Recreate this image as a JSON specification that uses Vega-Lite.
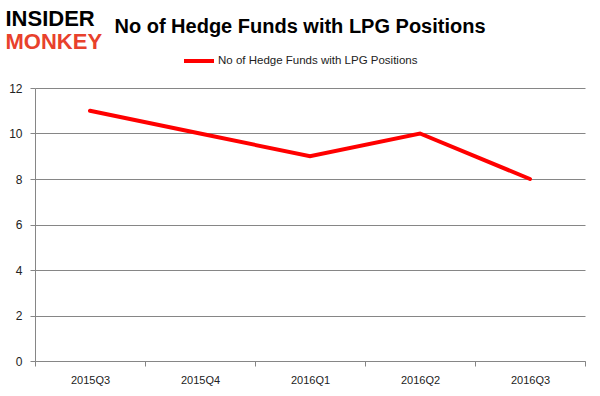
{
  "$schema": "https://vega.github.io/schema/vega-lite/v6.json",
  "width": 550,
  "height": 273,
  "autosize": "none",
  "padding": {"left": 35, "top": 88, "right": 15, "bottom": 35},
  "background": "white",
  "title": {
    "text": "No of Hedge Funds with LPG Positions",
    "font": "Liberation Sans",
    "fontSize": 20,
    "fontWeight": "bold",
    "color": "#000000",
    "anchor": "middle",
    "frame": "group",
    "dx": -10,
    "offset": 0,
    "dy": 30
  },
  "data": {
    "values": [
      {"quarter": "2015Q3", "funds": 11, "series": "No of Hedge Funds with LPG Positions"},
      {"quarter": "2015Q4", "funds": 10, "series": "No of Hedge Funds with LPG Positions"},
      {"quarter": "2016Q1", "funds": 9, "series": "No of Hedge Funds with LPG Positions"},
      {"quarter": "2016Q2", "funds": 10, "series": "No of Hedge Funds with LPG Positions"},
      {"quarter": "2016Q3", "funds": 8, "series": "No of Hedge Funds with LPG Positions"}
    ]
  },
  "mark": {"type": "line", "strokeWidth": 4, "strokeCap": "round"},
  "encoding": {
    "x": {
      "field": "quarter",
      "type": "ordinal",
      "bandPosition": 0.5,
      "scale": {"type": "band", "paddingInner": 0, "paddingOuter": 0},
      "axis": {
        "title": "MONKEY",
        "titleFont": "Liberation Sans",
        "titleFontSize": 22,
        "titleFontWeight": "bold",
        "titleColor": "#e8412c",
        "titleAlign": "left",
        "titleBaseline": "alphabetic",
        "titleAnchor": "start",
        "titleX": -30,
        "titleY": -313,
        "labelAngle": 0,
        "labelFont": "Liberation Sans",
        "labelFontSize": 11,
        "labelColor": "#222222",
        "labelPadding": 8,
        "tickBand": "extent",
        "tickSize": 5,
        "tickColor": "#868686",
        "domainColor": "#868686",
        "grid": false
      }
    },
    "y": {
      "field": "funds",
      "type": "quantitative",
      "scale": {"domain": [0, 12]},
      "axis": {
        "title": "INSIDER",
        "titleFont": "Liberation Sans",
        "titleFontSize": 22,
        "titleFontWeight": "bold",
        "titleColor": "#000000",
        "titleAngle": 0,
        "titleAlign": "left",
        "titleBaseline": "alphabetic",
        "titleX": -30,
        "titleY": -63,
        "values": [0, 2, 4, 6, 8, 10, 12],
        "labelFont": "Liberation Sans",
        "labelFontSize": 12,
        "labelColor": "#222222",
        "labelPadding": 8,
        "tickSize": 5,
        "tickColor": "#868686",
        "domainColor": "#868686",
        "grid": true,
        "gridColor": "#868686",
        "gridWidth": 1
      }
    },
    "color": {
      "field": "series",
      "type": "nominal",
      "scale": {"range": ["#ff0000"]},
      "legend": {
        "title": null,
        "orient": "none",
        "legendX": 147,
        "legendY": -44,
        "symbolType": "stroke",
        "symbolStrokeWidth": 4,
        "symbolSize": 900,
        "labelFont": "Liberation Sans",
        "labelFontSize": 11.5,
        "labelColor": "#222222",
        "labelOffset": 2,
        "labelLimit": 0
      }
    }
  },
  "config": {
    "view": {"stroke": null}
  }
}
